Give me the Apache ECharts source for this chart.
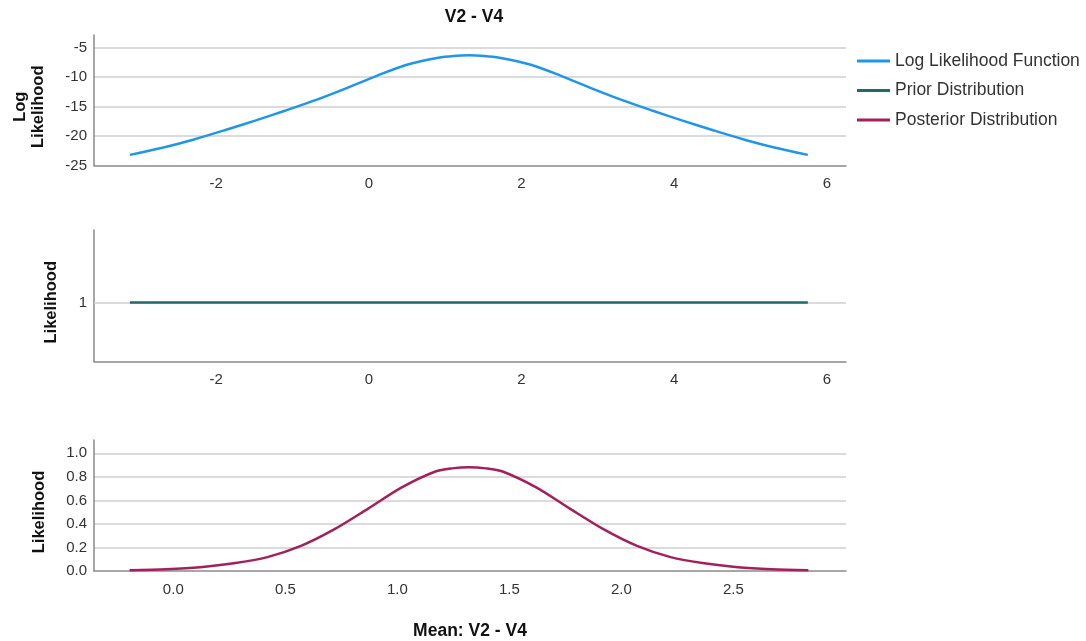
<!DOCTYPE html>
<html>
<head>
<meta charset="utf-8">
<script src="https://cdn.jsdelivr.net/npm/echarts@6/dist/echarts.min.js"></script>
<style>html,body{margin:0;padding:0;background:#fff}#c{width:1086px;height:641px}</style>
</head>
<body>
<div id="c"></div>
<script>
// Panel 1: log likelihood function (x = mean V2 - V4)
const logLikX = [-3.13, -2.69, -2.29, -1.89, -1.49, -1.09, -0.69, -0.29, 0.11, 0.51, 0.91, 1.11, 1.31, 1.51, 1.71, 2.11, 2.51, 2.91, 3.31, 3.71, 4.11, 4.51, 4.91, 5.31, 5.75];
const logLikY = [-23.2, -21.94, -20.58, -19.02, -17.38, -15.66, -13.86, -11.86, -9.74, -7.86, -6.7, -6.4, -6.3, -6.4, -6.7, -7.86, -9.74, -11.86, -13.86, -15.66, -17.38, -19.02, -20.58, -21.94, -23.2];
// Panel 2: prior distribution
const priorX = [-3.13, 5.75];
const priorY = [1, 1];
// Panel 3: posterior distribution
const postX = [-0.195, -0.03, 0.12, 0.27, 0.42, 0.57, 0.72, 0.87, 1.02, 1.17, 1.245, 1.32, 1.395, 1.47, 1.62, 1.77, 1.92, 2.07, 2.22, 2.37, 2.52, 2.67, 2.835];
const postY = [0.006, 0.015, 0.032, 0.065, 0.118, 0.213, 0.355, 0.53, 0.71, 0.845, 0.872, 0.881, 0.872, 0.845, 0.71, 0.53, 0.355, 0.213, 0.118, 0.065, 0.032, 0.015, 0.006];
// Tick labels
const xTicksTop = [-2, 0, 2, 4, 6];
const yTicksLog = [-25, -20, -15, -10, -5];
const yTicksPrior = [1];
const xTicksPost = [0.0, 0.5, 1.0, 1.5, 2.0, 2.5];
const yTicksPost = [0.0, 0.2, 0.4, 0.6, 0.8, 1.0];
const seriesNames = ['Log Likelihood Function', 'Prior Distribution', 'Posterior Distribution'];
const colors = ['#2196e8', '#1f6b68', '#a3215a'];

const zip = (xs, ys) => xs.map((x, i) => [x, ys[i]]);
const FONT = 'Liberation Sans, Arial, sans-serif';
const txt = '#333';
const axisLine = { show: true, onZero: false, lineStyle: { color: '#8a8a8a', width: 1.5 } };
const grid = { left: 94, width: 752 };

function xAxis(gridIndex, min, max, ticks, dec) {
  return {
    type: 'value', gridIndex, min, max,
    axisLine, axisTick: { show: false }, splitLine: { show: false },
    axisLabel: { customValues: ticks, color: txt, fontSize: 15, fontFamily: FONT, margin: 11,
      formatter: v => dec ? v.toFixed(1) : String(v) }
  };
}
function yAxis(gridIndex, min, max, ticks, dec, name, gap) {
  return {
    type: 'value', gridIndex, min, max,
    name, nameLocation: 'middle', nameGap: gap, nameRotate: 90,
    nameTextStyle: { fontWeight: 'bold', fontSize: 16.5, color: '#111', fontFamily: FONT, lineHeight: 18, padding: [0, 13, 0, 0] },
    axisLine, axisTick: { show: false },
    splitLine: { show: true, showMinLine: false, showMaxLine: false, lineStyle: { color: '#cfcfcf', width: 1.5 } },
    axisLabel: { customValues: ticks, color: txt, fontSize: 15, fontFamily: FONT, margin: 7,
      formatter: v => dec ? v.toFixed(1) : String(v) }
  };
}

const chart = echarts.init(document.getElementById('c'), null, { renderer: 'canvas' });
const yPrior = yAxis(1, 0.5, 1.616, yTicksPrior, false, 'Likelihood', 34);
yPrior.splitLine = { show: false };
chart.setOption({
  animation: false,
  backgroundColor: '#fff',
  color: colors,
  title: { text: 'V2 - V4', left: 469, textAlign: 'center', top: 3,
    textStyle: { fontSize: 17.5, fontWeight: 'bold', color: '#111', fontFamily: FONT } },
  legend: {
    orient: 'vertical', left: 852, top: 46, icon: 'rect', itemWidth: 33, itemHeight: 3, itemGap: 9.5,
    data: seriesNames,
    textStyle: { fontSize: 17.5, color: '#333', fontFamily: FONT, lineHeight: 20 }
  },
  grid: [
    Object.assign({ top: 35, height: 130.5 }, grid),
    Object.assign({ top: 230, height: 131.5 }, grid),
    Object.assign({ top: 440, height: 131 }, grid)
  ],
  xAxis: [
    xAxis(0, -3.6, 6.25, xTicksTop, false),
    xAxis(1, -3.6, 6.25, xTicksTop, false),
    Object.assign(xAxis(2, -0.354, 3.003, xTicksPost, true), {
      name: 'Mean: V2 - V4', nameLocation: 'middle', nameGap: 51,
      nameTextStyle: { fontWeight: 'bold', fontSize: 17.5, color: '#111', fontFamily: FONT } })
  ],
  yAxis: [
    yAxis(0, -25, -2.85, yTicksLog, false, 'Log\nLikelihood', 46.5),
    yPrior,
    yAxis(2, 0, 1.113, yTicksPost, true, 'Likelihood', 46)
  ],
  series: [
    { name: seriesNames[0], type: 'line', xAxisIndex: 0, yAxisIndex: 0, data: zip(logLikX, logLikY),
      smooth: 0.3, symbol: 'none', lineStyle: { width: 2.5, color: colors[0] }, itemStyle: { color: colors[0] } },
    { name: seriesNames[1], type: 'line', xAxisIndex: 1, yAxisIndex: 1, data: zip(priorX, priorY),
      symbol: 'none', lineStyle: { width: 2.5, color: colors[1] }, itemStyle: { color: colors[1] }, z: 3,
      markLine: { silent: true, symbol: 'none', label: { show: false },
        lineStyle: { color: '#cfcfcf', width: 1.5, type: 'solid' }, data: [{ yAxis: 1 }], z: 1 } },
    { name: seriesNames[2], type: 'line', xAxisIndex: 2, yAxisIndex: 2, data: zip(postX, postY),
      smooth: 0.3, symbol: 'none', lineStyle: { width: 2.5, color: colors[2] }, itemStyle: { color: colors[2] } }
  ]
});
</script>
</body>
</html>
